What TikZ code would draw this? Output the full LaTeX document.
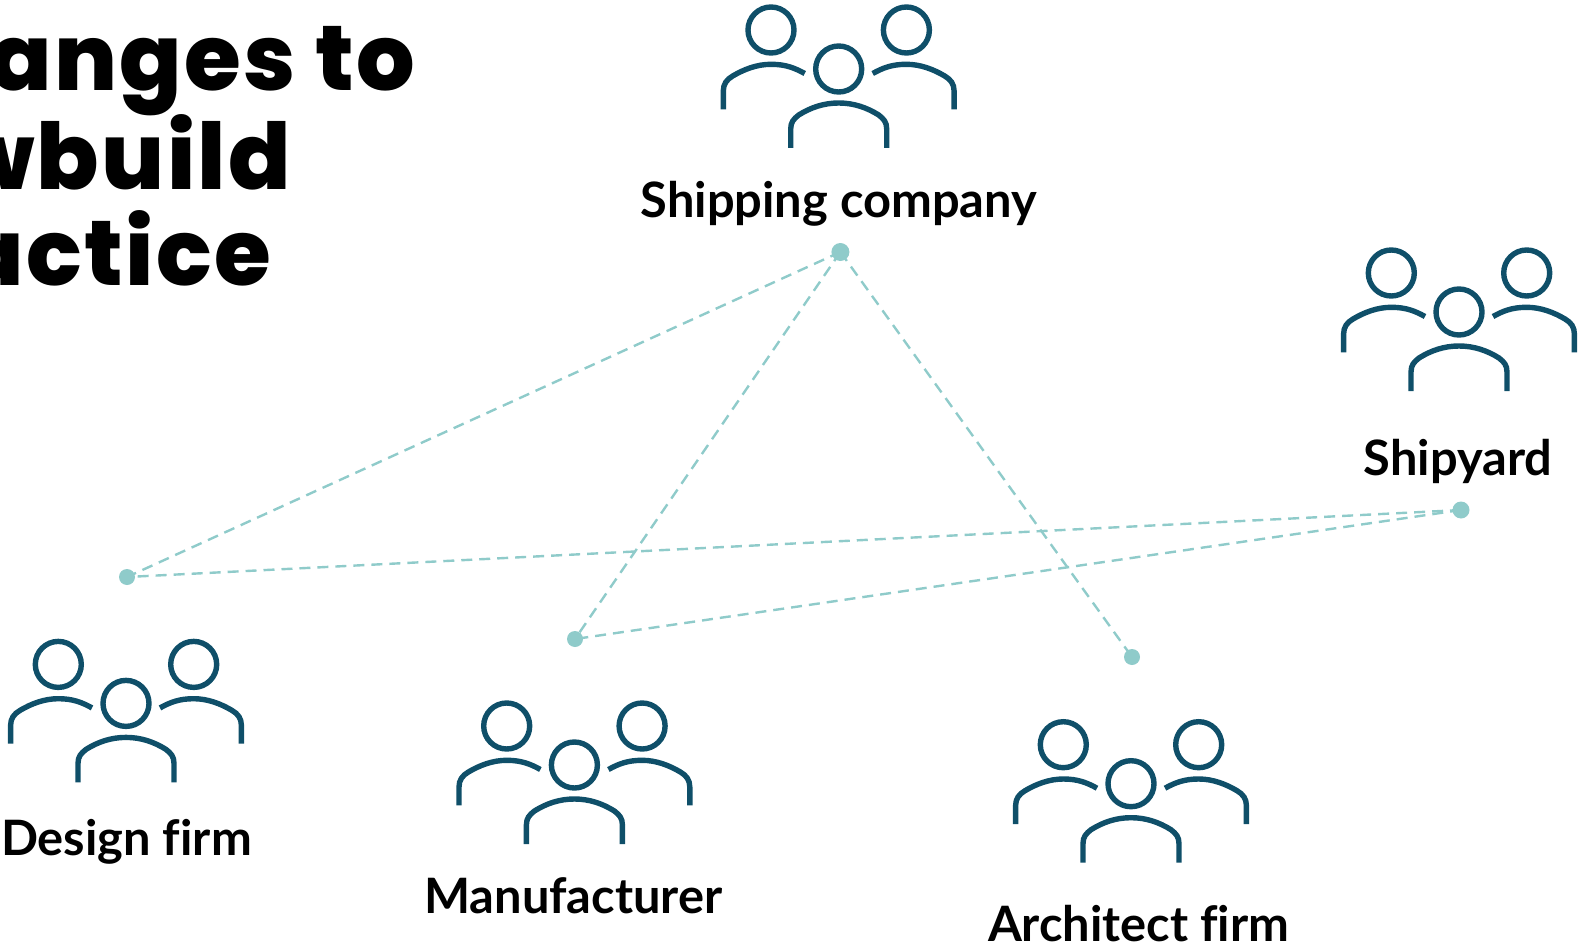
\documentclass[tikz,border=0pt]{standalone}
\usepackage{fontspec}
\setmainfont{Lato}[Ligatures=NoCommon]
\newfontfamily\titlefont{Poppins ExtraBold}[LetterSpace=2.5]
\usetikzlibrary{positioning}
\definecolor{crewblue}{HTML}{0F4F69}
\definecolor{linkteal}{HTML}{8FCBCA}

\begin{document}
\begin{tikzpicture}[
    x=0.5pt, y=-0.5pt,
    title/.style={anchor=base east, inner sep=0pt, font=\titlefont\fontsize{46}{50}\selectfont},
    label/.style={anchor=base, inner sep=0pt, font=\bfseries\fontsize{24.4}{28}\selectfont},
    dot/.style={circle, fill=linkteal, inner sep=0pt, minimum size=8pt},
    link/.style={draw=linkteal, line width=1.2pt, dash pattern=on 5.5pt off 3.5pt},
    crew/.pic={
        \draw[crewblue, line width=2.7pt] (-67.7,-39) circle (23) (67.7,-39) circle (23) (0,0) circle (23);
        \draw[crewblue, line width=2.7pt] (-115.4,40.3) -- (-115.4,22) .. controls (-115.4,15) and (-112,10.5) .. (-106,7)
            .. controls (-95,0.5) and (-82,-4.7) .. (-67.7,-4.7) .. controls (-53,-4.7) and (-44,-1) .. (-34,4.5);
        \draw[crewblue, line width=2.7pt] (115.4,40.3) -- (115.4,22) .. controls (115.4,15) and (112,10.5) .. (106,7)
            .. controls (95,0.5) and (82,-4.7) .. (67.7,-4.7) .. controls (53,-4.7) and (44,-1) .. (34,4.5);
        \draw[crewblue, line width=2.7pt] (-48,79) -- (-48,60) .. controls (-48,53) and (-45,50) .. (-40,46)
            .. controls (-28,38.5) and (-15,34) .. (0,34) .. controls (15,34) and (28,38.5) .. (40,46)
            .. controls (45,50) and (48,53) .. (48,60) -- (48,79);
    },
]
\clip (0,0) rectangle (1580,947);

% Title
\node[title] (t1) at (415.5,91) {anges to};
\node[title] (t2) at (291.5,189.5) {wbuild};
\node[title] (t3) at (271.5,285.5) {actice};

% Groups
\pic at (838.7,69) {crew};
\pic at (1459,312) {crew};
\pic at (126,703.4) {crew};
\pic at (574.4,765) {crew};
\pic at (1131,783.7) {crew};

\node[label] (shipping) at (838.9,217.5) {Shipping company};
\node[label] (shipyard) at (1458,475) {Shipyard};
\node[label] (design) at (126.5,855) {Design firm};
\node[label] (maker) at (573.4,913) {Manufacturer};
\node[label] (architect) at (1138.7,941) {Architect firm};

% Dots
\node[dot, minimum size=9pt] (d1) at (840.4,252) {};
\node[dot, minimum size=8.5pt] (d2) at (1461,510) {};
\node[dot] (d3) at (127,577) {};
\node[dot] (d4) at (575,639) {};
\node[dot] (d5) at (1132,657) {};

% Links
\draw[link] (d1.center) -- (d3.center);
\draw[link] (d1.center) -- (d4.center);
\draw[link] (d1.center) -- (d5.center);
\draw[link] (d2.center) -- (d3.center);
\draw[link] (d2.center) -- (d4.center);

\end{tikzpicture}
\end{document}
